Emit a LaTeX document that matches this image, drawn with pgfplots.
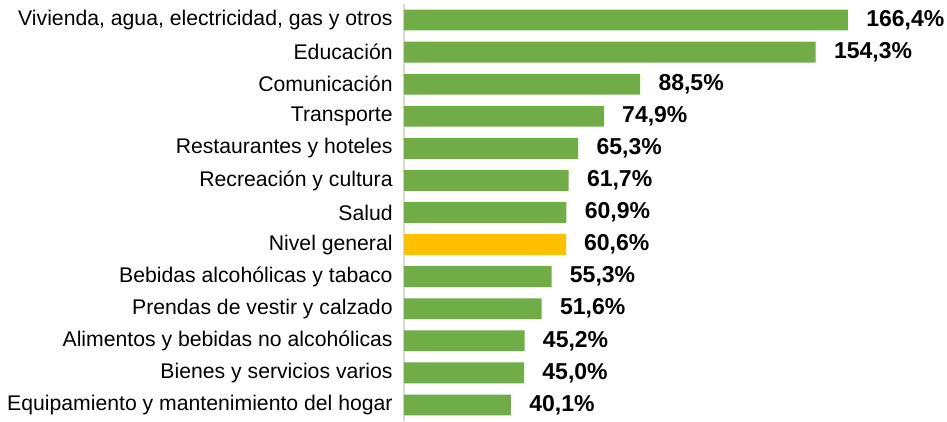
\documentclass[border=0pt]{standalone}
\usepackage{fontspec}
\setmainfont{Liberation Sans}
\usepackage{pgfplots}
\pgfplotsset{compat=1.18}
\usetikzlibrary{calc}
\definecolor{barverde}{HTML}{70AD47}
\definecolor{baramarillo}{HTML}{FFC000}
\definecolor{ejegris}{HTML}{D9D9D9}

\begin{document}
\begin{tikzpicture}
\begin{axis}[
    name=ax,
    xbar,
    scale only axis,
    width=266.8pt, height=208.5pt,
    xmin=0, xmax=200,
    ymin=-0.5, ymax=12.5,
    y dir=reverse,
    bar width=0.65,
    bar shift=0pt,
    axis x line=none,
    axis y line*=left,
    y axis line style={ejegris, line width=0.8pt},
    ytick={0,...,12},
    yticklabels={{Vivienda, agua, electricidad, gas y otros}, Educación, Comunicación, Transporte, Restaurantes y hoteles, Recreación y cultura, Salud, Nivel general, Bebidas alcohólicas y tabaco, Prendas de vestir y calzado, Alimentos y bebidas no alcohólicas, Bienes y servicios varios, Equipamiento y mantenimiento del hogar},
    major tick length=0pt,
    yticklabel style={font=\fontsize{10.6}{12}\selectfont, inner sep=0pt, xshift=-5.5pt},
    /pgf/number format/assume math mode=true,
    nodes near coords={\pgfmathprintnumber[fixed, fixed zerofill, precision=1, use comma, assume math mode=true]{\pgfplotspointmeta}\%},
    nodes near coords style={font=\fontsize{11.5}{13}\selectfont\bfseries, anchor=west, inner sep=0pt, xshift=9pt},
    point meta=x,
    clip=false,
]
\addplot[draw=none, fill=barverde] coordinates {
    (166.4,0) (154.3,1) (88.5,2) (74.9,3) (65.3,4) (61.7,5) (60.9,6)
    (55.3,8) (51.6,9) (45.2,10) (45.0,11) (40.1,12)
};
\addplot[draw=none, fill=baramarillo] coordinates {(60.6,7)};
\end{axis}
\path ($(ax.south west)+(-202pt,0pt)$) rectangle ($(ax.south west)+(271.5pt,210.5pt)$);
\end{tikzpicture}
\end{document}
